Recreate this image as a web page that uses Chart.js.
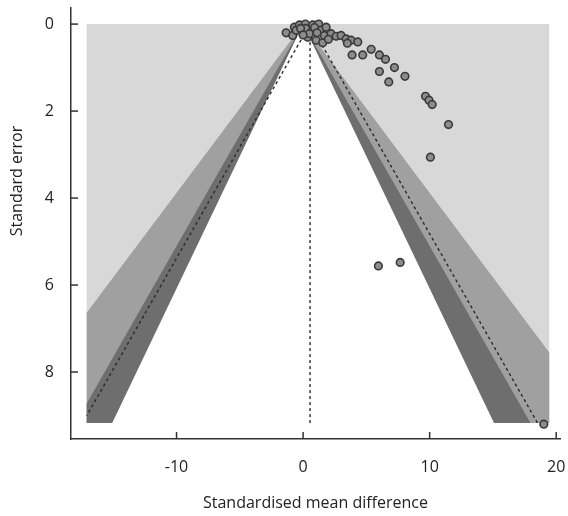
<!DOCTYPE html>
<html><head><meta charset="utf-8">
<script src="https://cdn.jsdelivr.net/npm/chart.js@4.4.0/dist/chart.umd.min.js"></script>
<style>html,body{margin:0;padding:0;background:#fff}#wrap{width:568px;height:516px}</style>
</head><body><div id="wrap"><canvas id="c" width="568" height="516"></canvas></div>
<script>
// ---- data ----
const studyEffect = [-1.34,-0.82,-0.69,-0.55,-0.29,-0.03,0.18,0.36,0.63,0.76,1.03,1.23,1.42,1.55,1.68,1.82,2.21,2.61,3.00,3.40,3.79,4.32,
  0.20,0.90,0.50,1.10,-0.20,2.00,0.00,
  3.50,3.87,4.71,5.38,6.03,6.51,6.03,7.22,6.77,8.05,9.67,9.95,10.20,11.49,10.06,5.95,7.67,19.02];
const studySE = [0.20,0.26,0.07,0.14,0.02,0.18,0.00,0.30,0.14,0.02,0.37,0.00,0.14,0.43,0.26,0.07,0.22,0.28,0.26,0.34,0.37,0.41,
  0.10,0.08,0.22,0.20,0.10,0.35,0.25,
  0.44,0.71,0.71,0.58,0.71,0.81,1.09,1.00,1.33,1.20,1.66,1.75,1.85,2.31,3.06,5.56,5.48,9.20];
const xTicks = [-10, 0, 10, 20];
const yTicks = [0, 2, 4, 6, 8];
const contourZ = [2.576, 1.96, 1.645];           // p = 0.01, 0.05, 0.10 contours
const contourColors = ['#a0a0a0', '#6e6e6e', '#ffffff'];
const outerColor = '#d8d8d8';
const regionX = [-17.1, 19.45];
const regionSEMax = 9.17;
const pooledEstimate = 0.55;
const ciZ = 1.96;
const xTitle = 'Standardised mean difference';
const yTitle = 'Standard error';
const FONT = '"Open Sans", "Noto Sans", sans-serif';

// ---- derived shapes ----
function contourPolygon(z){
  const [xmin, xmax] = regionX, s = regionSEMax;
  const pts = [{x:0, y:0}];
  if (z*s > xmax) pts.push({x:xmax, y:xmax/z}, {x:xmax, y:s}); else pts.push({x:z*s, y:s});
  if (z*s > -xmin) pts.push({x:xmin, y:s}, {x:xmin, y:-xmin/z}); else pts.push({x:-z*s, y:s});
  pts.push({x:0, y:0});
  return pts;
}
const rectPts = [{x:regionX[0],y:0},{x:regionX[1],y:0},{x:regionX[1],y:regionSEMax},{x:regionX[0],y:regionSEMax},{x:regionX[0],y:0}];
const seEnd = Math.max(...studySE);
const leftSE = Math.min(seEnd, (pooledEstimate - regionX[0]) / ciZ);
const rightSE = Math.min(seEnd, (regionX[1] - pooledEstimate) / ciZ);
const leftCI = [{x:pooledEstimate, y:0}, {x:pooledEstimate - ciZ*leftSE, y:leftSE}];
const rightCI = [{x:pooledEstimate, y:0}, {x:pooledEstimate + ciZ*rightSE, y:rightSE}];
const centerLine = [{x:pooledEstimate, y:0}, {x:pooledEstimate, y:seEnd}];

function shapeDS(data, color, order){
  return {type:'line', data, fill:'shape', backgroundColor:color, borderColor:'rgba(0,0,0,0)', borderWidth:0,
    pointRadius:0, tension:0, order};
}
function dashDS(data, order){
  return {type:'line', data, fill:false, borderColor:'#2a2a2a', borderWidth:1.4, borderDash:[3,3], pointRadius:0, tension:0, order};
}

const datasets = [
  {type:'scatter', data: studyEffect.map((v,i)=>({x:v, y:studySE[i]})), pointRadius:3.8, pointBorderWidth:1.6,
    borderColor:'#3a3a3a', backgroundColor:'#8c8c8c', order:0},
  dashDS(leftCI, 1), dashDS(rightCI, 1), dashDS(centerLine, 1),
  shapeDS(contourPolygon(contourZ[2]), contourColors[2], 2),
  shapeDS(contourPolygon(contourZ[1]), contourColors[1], 3),
  shapeDS(contourPolygon(contourZ[0]), contourColors[0], 4),
  shapeDS(rectPts, outerColor, 5)
];

const inwardTicks = {
  id:'inwardTicks',
  afterDraw(chart){
    const {ctx, chartArea:a, scales:{x, y}} = chart;
    ctx.save();
    ctx.strokeStyle = '#333'; ctx.lineWidth = 1.5;
    x.ticks.forEach(t => { const p = x.getPixelForValue(t.value); ctx.beginPath(); ctx.moveTo(p, a.bottom); ctx.lineTo(p, a.bottom - 7); ctx.stroke(); });
    y.ticks.forEach(t => { const p = y.getPixelForValue(t.value); ctx.beginPath(); ctx.moveTo(a.left, p); ctx.lineTo(a.left + 7, p); ctx.stroke(); });
    ctx.translate(17, 181); ctx.rotate(-Math.PI/2);
    ctx.textAlign = 'center'; ctx.textBaseline = 'middle';
    ctx.font = '16px ' + FONT; ctx.fillStyle = '#222';
    ctx.fillText(yTitle, 0, 0);
    ctx.restore();
  }
};

function zeroPad(s){ s.paddingLeft = 0; s.paddingRight = 0; s.paddingTop = 0; s.paddingBottom = 0; }

new Chart(document.getElementById('c'), {
  type:'scatter',
  data:{datasets},
  plugins:[inwardTicks],
  options:{
    responsive:false, animation:false,
    layout:{padding:{top:8, right:8, left:0, bottom:0}},
    plugins:{legend:{display:false}, tooltip:{enabled:false}},
    scales:{
      x:{type:'linear', min:-18.34, max:20.3,
        afterBuildTicks: s => { s.ticks = xTicks.map(v => ({value:v})); },
        afterFit: s => { s.height = 77; zeroPad(s); },
        grid:{display:false, drawTicks:false},
        border:{display:true, color:'#333', width:1.5},
        ticks:{padding:19, color:'#222', font:{family:FONT, size:16}, callback:v => String(v), maxRotation:0},
        title:{display:true, text:xTitle, color:'#222', font:{family:FONT, size:16}, padding:{top:0, bottom:3}}
      },
      y:{type:'linear', reverse:true, min:-0.37, max:9.54,
        afterBuildTicks: s => { s.ticks = yTicks.map(v => ({value:v})); },
        afterFit: s => { s.width = 71; zeroPad(s); },
        grid:{display:false, drawTicks:false},
        border:{display:true, color:'#333', width:1.5},
        ticks:{padding:17, color:'#222', font:{family:FONT, size:16}, callback:v => String(v)}
      }
    }
  }
});
</script></body></html>
